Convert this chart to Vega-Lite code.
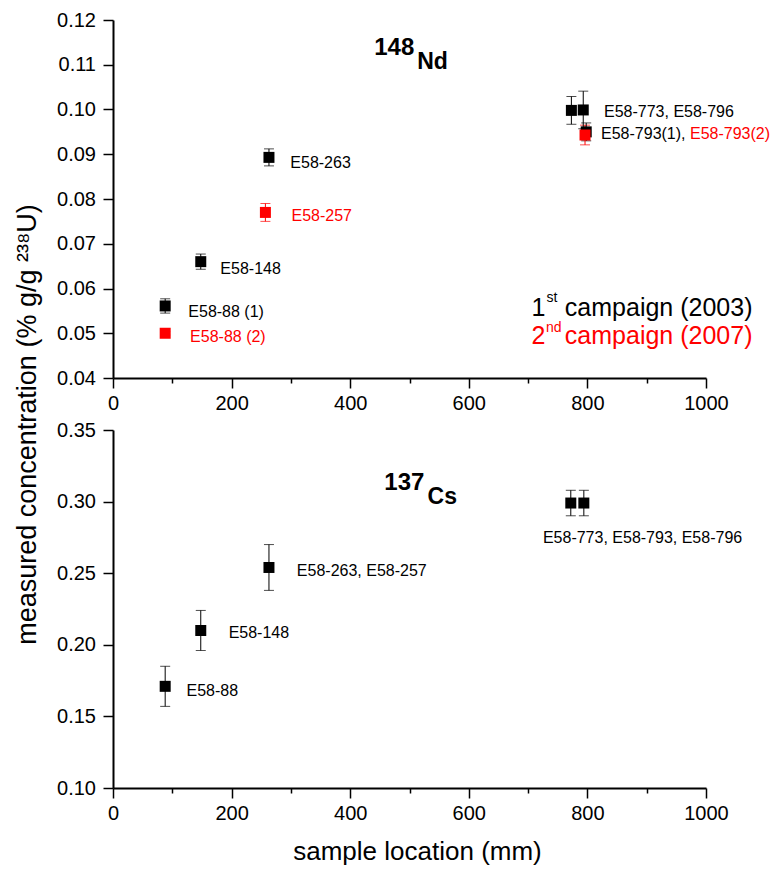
{
  "$schema": "https://vega.github.io/schema/vega-lite/v6.json",
  "background": "white",
  "padding": {"left": 13, "top": 10, "right": 5, "bottom": 5},
  "config": {
    "font": "Liberation Sans",
    "view": {"stroke": null},
    "axis": {
      "grid": false,
      "domainColor": "black",
      "domainWidth": 2,
      "tickColor": "black",
      "tickWidth": 1.5,
      "labelColor": "black",
      "labelFont": "Liberation Sans",
      "labelFontSize": 20,
      "labelFlush": false,
      "labelOverlap": false,
      "titleFont": "Liberation Sans",
      "titleFontSize": 26,
      "titleFontWeight": "normal",
      "titleColor": "black"
    }
  },
  "datasets": {
    "nd": [
      {"sample": "E58-88 (1)", "location": 88, "concentration": 0.0561, "uncertainty": 0.0016, "campaign": "1st"},
      {"sample": "E58-148", "location": 148, "concentration": 0.0660, "uncertainty": 0.0017, "campaign": "1st"},
      {"sample": "E58-263", "location": 263, "concentration": 0.0893, "uncertainty": 0.0019, "campaign": "1st"},
      {"sample": "E58-773", "location": 773, "concentration": 0.0998, "uncertainty": 0.0031, "campaign": "1st"},
      {"sample": "E58-796", "location": 793, "concentration": 0.0999, "uncertainty": 0.0042, "campaign": "1st"},
      {"sample": "E58-793(1)", "location": 798, "concentration": 0.0950, "uncertainty": 0.0020, "campaign": "1st"},
      {"sample": "E58-88 (2)", "location": 88, "concentration": 0.0500, "uncertainty": 0.0004, "campaign": "2nd"},
      {"sample": "E58-257", "location": 257, "concentration": 0.0770, "uncertainty": 0.0020, "campaign": "2nd"},
      {"sample": "E58-793(2)", "location": 796, "concentration": 0.0943, "uncertainty": 0.0022, "campaign": "2nd"}
    ],
    "cs": [
      {"sample": "E58-88", "location": 88, "concentration": 0.171, "uncertainty": 0.014, "campaign": "1st"},
      {"sample": "E58-148", "location": 148, "concentration": 0.210, "uncertainty": 0.014, "campaign": "1st"},
      {"sample": "E58-263, E58-257", "location": 263, "concentration": 0.254, "uncertainty": 0.016, "campaign": "1st"},
      {"sample": "E58-773", "location": 772, "concentration": 0.299, "uncertainty": 0.0089, "campaign": "1st"},
      {"sample": "E58-793, E58-796", "location": 794, "concentration": 0.299, "uncertainty": 0.0089, "campaign": "1st"}
    ],
    "nd_labels": [
      {"text": "E58-263", "x": 299, "y": 0.0870, "campaign": "1st"},
      {"text": "E58-257", "x": 301, "y": 0.0750, "campaign": "2nd"},
      {"text": "E58-148", "x": 181, "y": 0.0633, "campaign": "1st"},
      {"text": "E58-88 (1)", "x": 127, "y": 0.0536, "campaign": "1st"},
      {"text": "E58-88 (2)", "x": 130, "y": 0.0480, "campaign": "2nd"},
      {"text": "E58-773, E58-796", "x": 828, "y": 0.0984, "campaign": "1st"},
      {"text": "E58-793(1),", "x": 823, "y": 0.0934, "campaign": "1st"},
      {"text": "E58-793(2)", "x": 973, "y": 0.0934, "campaign": "2nd"}
    ],
    "cs_labels": [
      {"text": "E58-88", "x": 124, "y": 0.1641, "campaign": "1st"},
      {"text": "E58-148", "x": 195, "y": 0.2044, "campaign": "1st"},
      {"text": "E58-263, E58-257", "x": 310, "y": 0.2480, "campaign": "1st"},
      {"text": "E58-773, E58-793, E58-796", "x": 725, "y": 0.2708, "campaign": "1st"}
    ],
    "nd_mass": [{"text": "148", "x": 508, "y": 0.1122}],
    "nd_symbol": [{"text": "Nd", "x": 513, "y": 0.1090}],
    "cs_mass": [{"text": "137", "x": 525, "y": 0.3081}],
    "cs_symbol": [{"text": "Cs", "x": 530.5, "y": 0.2983}],
    "campaign_key": [
      {"text": "1", "x": 705.7, "y": 0.0538, "campaign": "1st"},
      {"text": "campaign (2003)", "x": 762, "y": 0.0538, "campaign": "1st"},
      {"text": "2", "x": 705.7, "y": 0.0477, "campaign": "2nd"},
      {"text": "campaign (2007)", "x": 762, "y": 0.0477, "campaign": "2nd"}
    ],
    "campaign_key_sup": [
      {"text": "st", "x": 731, "y": 0.0569, "campaign": "1st"},
      {"text": "nd", "x": 730, "y": 0.0503, "campaign": "2nd"}
    ]
  },
  "spacing": 52,
  "bounds": "flush",
  "vconcat": [
    {
      "width": 593,
      "height": 358,
      "layer": [
        {
          "data": {"name": "nd"},
          "mark": {"type": "errorbar", "size": 10, "thickness": 1, "ticks": true},
          "encoding": {
            "x": {
              "field": "location", "type": "quantitative",
              "scale": {"domain": [0, 1000], "nice": false, "zero": false},
              "axis": {
                "title": null,
                "values": [0, 100, 200, 300, 400, 500, 600, 700, 800, 900, 1000],
                "labelExpr": "datum.value % 200 === 0 ? format(datum.value, 'd') : ''",
                "tickSize": {"condition": {"test": "datum.value % 200 !== 0", "value": 5}, "value": 10},
                "labelPadding": 5
              }
            },
            "y": {
              "field": "concentration", "type": "quantitative",
              "scale": {"domain": [0.04, 0.12], "nice": false, "zero": false},
              "axis": {
                "values": [0.04, 0.045, 0.05, 0.055, 0.06, 0.065, 0.07, 0.075, 0.08, 0.085, 0.09, 0.095, 0.1, 0.105, 0.11, 0.115, 0.12],
                "labelExpr": "round(datum.value * 1000) % 10 === 0 ? format(datum.value, '.2f') : ''",
                "tickSize": {"condition": {"test": "round(datum.value * 1000) % 10 !== 0", "value": 5}, "value": 10},
                "labelPadding": 7.5,
                "title": "measured concentration (% g/g ²³⁸U)",
                "titleFontSize": 27,
                "titleAngle": 270,
                "titleAlign": "center",
                "titleBaseline": "alphabetic",
                "titleX": -78,
                "titleY": 404
              }
            },
            "yError": {"field": "uncertainty"},
            "color": {"field": "campaign", "type": "nominal", "scale": {"domain": ["1st", "2nd"], "range": ["black", "#ff0000"]}, "legend": null}
          }
        },
        {
          "data": {"name": "nd"},
          "mark": {"type": "point", "shape": "square", "filled": true, "size": 121, "opacity": 1},
          "encoding": {
            "x": {"field": "location", "type": "quantitative"},
            "y": {"field": "concentration", "type": "quantitative"},
            "color": {"field": "campaign", "type": "nominal", "legend": null}
          }
        },
        {
          "data": {"name": "nd_labels"},
          "mark": {"type": "text", "align": "left", "baseline": "alphabetic", "fontSize": 16},
          "encoding": {
            "x": {"field": "x", "type": "quantitative"},
            "y": {"field": "y", "type": "quantitative"},
            "text": {"field": "text"},
            "color": {"field": "campaign", "type": "nominal", "legend": null}
          }
        },
        {
          "data": {"name": "nd_mass"},
          "mark": {"type": "text", "align": "right", "baseline": "alphabetic", "fontSize": 24, "fontWeight": "bold", "color": "black"},
          "encoding": {
            "x": {"field": "x", "type": "quantitative"},
            "y": {"field": "y", "type": "quantitative"},
            "text": {"field": "text"}
          }
        },
        {
          "data": {"name": "nd_symbol"},
          "mark": {"type": "text", "align": "left", "baseline": "alphabetic", "fontSize": 23, "fontWeight": "bold", "color": "black"},
          "encoding": {
            "x": {"field": "x", "type": "quantitative"},
            "y": {"field": "y", "type": "quantitative"},
            "text": {"field": "text"}
          }
        },
        {
          "data": {"name": "campaign_key"},
          "mark": {"type": "text", "align": "left", "baseline": "alphabetic", "fontSize": 25, "clip": false},
          "encoding": {
            "x": {"field": "x", "type": "quantitative"},
            "y": {"field": "y", "type": "quantitative"},
            "text": {"field": "text"},
            "color": {"field": "campaign", "type": "nominal", "legend": null}
          }
        },
        {
          "data": {"name": "campaign_key_sup"},
          "mark": {"type": "text", "align": "left", "baseline": "alphabetic", "fontSize": 14},
          "encoding": {
            "x": {"field": "x", "type": "quantitative"},
            "y": {"field": "y", "type": "quantitative"},
            "text": {"field": "text"},
            "color": {"field": "campaign", "type": "nominal", "legend": null}
          }
        }
      ]
    },
    {
      "width": 593,
      "height": 358,
      "layer": [
        {
          "data": {"name": "cs"},
          "mark": {"type": "errorbar", "size": 10, "thickness": 1, "ticks": true},
          "encoding": {
            "x": {
              "field": "location", "type": "quantitative",
              "scale": {"domain": [0, 1000], "nice": false, "zero": false},
              "axis": {
                "title": "sample location (mm)",
                "values": [0, 100, 200, 300, 400, 500, 600, 700, 800, 900, 1000],
                "labelExpr": "datum.value % 200 === 0 ? format(datum.value, 'd') : ''",
                "tickSize": {"condition": {"test": "datum.value % 200 !== 0", "value": 5}, "value": 10},
                "labelPadding": 5,
                "titleBaseline": "alphabetic",
                "titleAnchor": "start",
                "titleAlign": "center",
                "titleX": 304,
                "titleY": 71
              }
            },
            "y": {
              "field": "concentration", "type": "quantitative",
              "scale": {"domain": [0.1, 0.35], "nice": false, "zero": false},
              "axis": {
                "values": [0.1, 0.125, 0.15, 0.175, 0.2, 0.225, 0.25, 0.275, 0.3, 0.325, 0.35],
                "labelExpr": "round(datum.value * 1000) % 50 === 0 ? format(datum.value, '.2f') : ''",
                "tickSize": {"condition": {"test": "round(datum.value * 1000) % 50 !== 0", "value": 5}, "value": 10},
                "labelPadding": 7.5,
                "title": null
              }
            },
            "yError": {"field": "uncertainty"},
            "color": {"field": "campaign", "type": "nominal", "scale": {"domain": ["1st", "2nd"], "range": ["black", "#ff0000"]}, "legend": null}
          }
        },
        {
          "data": {"name": "cs"},
          "mark": {"type": "point", "shape": "square", "filled": true, "size": 121, "opacity": 1},
          "encoding": {
            "x": {"field": "location", "type": "quantitative"},
            "y": {"field": "concentration", "type": "quantitative"},
            "color": {"field": "campaign", "type": "nominal", "legend": null}
          }
        },
        {
          "data": {"name": "cs_labels"},
          "mark": {"type": "text", "align": "left", "baseline": "alphabetic", "fontSize": 16},
          "encoding": {
            "x": {"field": "x", "type": "quantitative"},
            "y": {"field": "y", "type": "quantitative"},
            "text": {"field": "text"},
            "color": {"field": "campaign", "type": "nominal", "legend": null}
          }
        },
        {
          "data": {"name": "cs_mass"},
          "mark": {"type": "text", "align": "right", "baseline": "alphabetic", "fontSize": 24, "fontWeight": "bold", "color": "black"},
          "encoding": {
            "x": {"field": "x", "type": "quantitative"},
            "y": {"field": "y", "type": "quantitative"},
            "text": {"field": "text"}
          }
        },
        {
          "data": {"name": "cs_symbol"},
          "mark": {"type": "text", "align": "left", "baseline": "alphabetic", "fontSize": 23, "fontWeight": "bold", "color": "black"},
          "encoding": {
            "x": {"field": "x", "type": "quantitative"},
            "y": {"field": "y", "type": "quantitative"},
            "text": {"field": "text"}
          }
        }
      ]
    }
  ]
}
